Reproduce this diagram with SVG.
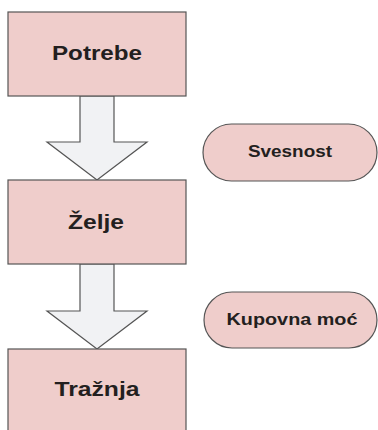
<svg xmlns="http://www.w3.org/2000/svg" width="378" height="430" viewBox="0 0 378 430">
<style>
.box{fill:#EFCDCB;stroke:#555;stroke-width:1.2}
.arr{fill:#F1F2F4;stroke:#555;stroke-width:1.2}
.t{font-family:"Liberation Sans",Arial,sans-serif;font-weight:bold;fill:#231F20;text-anchor:middle}
</style>
<rect width="378" height="430" fill="#fff"/>
<g id="connectors">
<polygon class="arr" points="80,96 114,96 114,142 147,142 97,180 47,142 80,142"/>
<polygon class="arr" points="80,264 114,264 114,311 147,311 97,349 47,311 80,311"/>
</g>
<g id="potrebe"><rect class="box" x="8" y="12" width="178" height="84"/><text class="t" x="97" y="59.5" font-size="21" textLength="90" lengthAdjust="spacingAndGlyphs">Potrebe</text></g>
<g id="zelje"><rect class="box" x="8" y="180" width="178" height="84"/><text class="t" x="96" y="229" font-size="21" textLength="56" lengthAdjust="spacingAndGlyphs">Želje</text></g>
<g id="traznja"><rect class="box" x="8" y="349" width="178" height="90"/><text class="t" x="97" y="396" font-size="21" textLength="85" lengthAdjust="spacingAndGlyphs">Tražnja</text></g>
<g id="svesnost"><rect class="box" x="203" y="124" width="174" height="57" rx="28.5"/><text class="t" x="290" y="157" font-size="16.5" textLength="84" lengthAdjust="spacingAndGlyphs">Svesnost</text></g>
<g id="kupovna"><rect class="box" x="204" y="292" width="173" height="56" rx="28"/><text class="t" x="292" y="325" font-size="16.5" textLength="131" lengthAdjust="spacingAndGlyphs">Kupovna moć</text></g>
</svg>
